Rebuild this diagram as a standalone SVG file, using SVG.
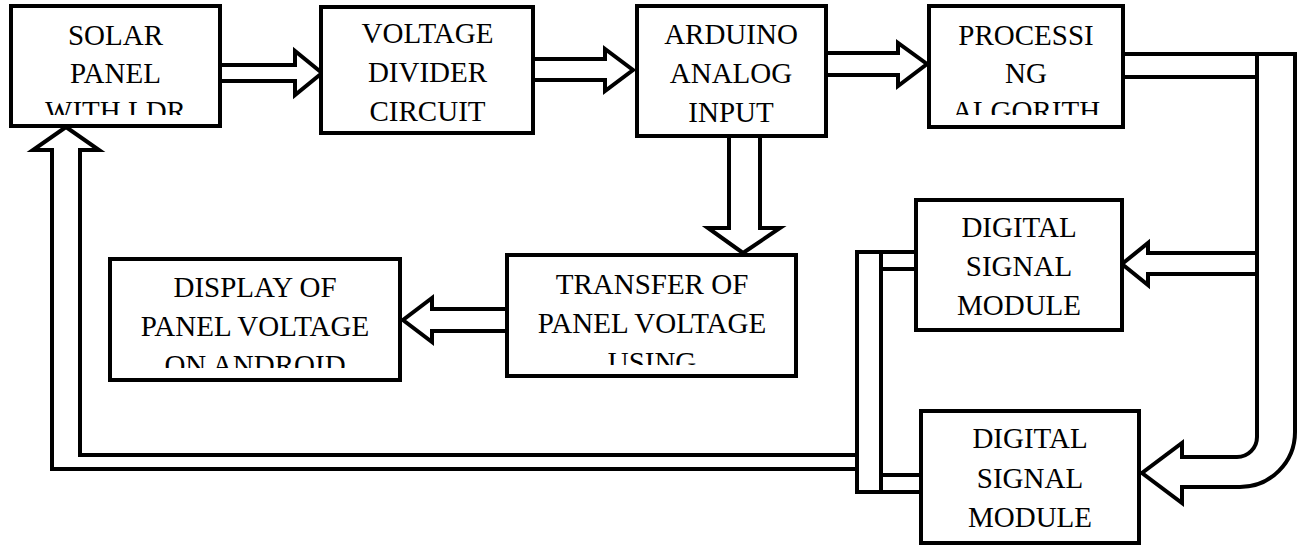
<svg xmlns="http://www.w3.org/2000/svg" width="1306" height="546" viewBox="0 0 1306 546">
<style>
.box{fill:#fff;stroke:#000;stroke-width:4}
.pipe{fill:#fff;stroke:#000;stroke-width:4;stroke-linejoin:miter}
.ln{fill:none;stroke:#000;stroke-width:4}
.t{font-size:29px;fill:#000;text-anchor:middle}
</style>
<defs>
<clipPath id="c1"><rect x="13" y="8" width="205" height="107"/></clipPath>
<clipPath id="c4"><rect x="931" y="8" width="190" height="107"/></clipPath>
<clipPath id="c7"><rect x="509" y="257" width="285" height="108"/></clipPath>
<clipPath id="c8"><rect x="112" y="261" width="286" height="107"/></clipPath>
</defs>
<rect width="1306" height="546" fill="#fff"/>
<g id="connectors">
<polygon class="pipe" points="220,65 295,65 295,51 322,73 295,95 295,81 220,81"/>
<polygon class="pipe" points="533,59 605,59 605,49 633,70 605,91 605,80 533,80"/>
<polygon class="pipe" points="826,53 898,53 898,43 927,64 898,86 898,75 826,75"/>
<polygon class="pipe" points="729,136 729,228 708,228 743,253 780,228 760,228 760,136"/>
<polygon class="pipe" points="507,309 432,309 432,298 403,320 432,342 432,331 507,331"/>
<path class="pipe" d="M1123 54 H1295 V432 A55 55 0 0 1 1240 487 H1182 V503 L1142 473 L1182 443 V457 H1237 A20 20 0 0 0 1257 437 V274 H1148 V285 L1122 264 L1148 243 V253 H1257 V77 H1123 Z"/>
<line class="ln" x1="1257" y1="54" x2="1257" y2="437" stroke-width="5"/>
<path class="pipe" d="M857 455 H80 V150 H99 L66 127 L33 150 H52 V469 H857 Z"/>
<rect class="pipe" x="857" y="252" width="24" height="240"/>
<rect class="pipe" x="881" y="252" width="35" height="17"/>
<rect class="pipe" x="881" y="475" width="40" height="17"/>
</g>
<g class="t" font-family="Liberation Serif, Times New Roman, serif">
<g id="solar">
<rect class="box" x="11" y="6" width="209" height="120"/>
<g clip-path="url(#c1)"><text x="115.5" y="45">SOLAR</text><text x="115.5" y="83">PANEL</text><text x="115.5" y="121">WITH LDR</text></g>
</g>
<g id="divider">
<rect class="box" x="321" y="7" width="212" height="126"/>
<text x="427.5" y="43">VOLTAGE</text><text x="427.5" y="82">DIVIDER</text><text x="427.5" y="121">CIRCUIT</text>
</g>
<g id="arduino">
<rect class="box" x="637" y="6" width="189" height="130"/>
<text x="731" y="44">ARDUINO</text><text x="731" y="83">ANALOG</text><text x="731" y="122">INPUT</text>
</g>
<g id="processing">
<rect class="box" x="929" y="6" width="194" height="121"/>
<g clip-path="url(#c4)"><text x="1026" y="45">PROCESSI</text><text x="1026" y="83">NG</text><text x="1026" y="121">ALGORITH</text></g>
</g>
<g id="digital1">
<rect class="box" x="916" y="200" width="206" height="130"/>
<text x="1019" y="237">DIGITAL</text><text x="1019" y="276">SIGNAL</text><text x="1019" y="315">MODULE</text>
</g>
<g id="digital2">
<rect class="box" x="921" y="411" width="218" height="132"/>
<text x="1030" y="448">DIGITAL</text><text x="1030" y="488">SIGNAL</text><text x="1030" y="527">MODULE</text>
</g>
<g id="transfer">
<rect class="box" x="507" y="255" width="289" height="121"/>
<g clip-path="url(#c7)"><text x="652" y="294">TRANSFER OF</text><text x="652" y="333">PANEL VOLTAGE</text><text x="652" y="372">USING</text></g>
</g>
<g id="display">
<rect class="box" x="110" y="259" width="290" height="121"/>
<g clip-path="url(#c8)"><text x="255" y="297">DISPLAY OF</text><text x="255" y="336">PANEL VOLTAGE</text><text x="255" y="375">ON ANDROID</text></g>
</g>
</g>
</svg>
